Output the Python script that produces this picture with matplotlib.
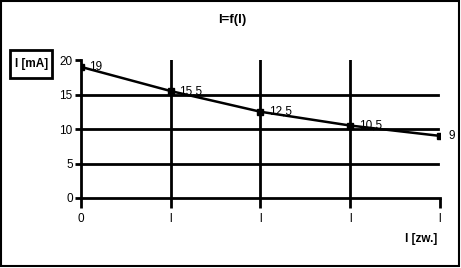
import numpy as np
import matplotlib.pyplot as plt
from matplotlib.patches import Rectangle

plt.rcParams['font.family'] = ['Liberation Sans', 'DejaVu Sans']

# data
xpos = [0, 1, 2, 3, 4]
xlabels = ['0', 'l', 'l', 'l', 'l']
current = [19, 15.5, 12.5, 10.5, 9]
point_labels = ['19', '15,5', '12,5', '10,5', '9']

fig = plt.figure(figsize=(4.61, 2.68), dpi=100)
# outer frame and y-label box
fig.patches.append(Rectangle((0.003, 0.006), 0.993, 0.99, transform=fig.transFigure,
                             fill=False, edgecolor='black', linewidth=1.5))
fig.patches.append(Rectangle((0.0217, 0.709), 0.0911, 0.1045, transform=fig.transFigure,
                             fill=False, edgecolor='black', linewidth=2))
ax = fig.add_axes([0.1757, 0.2612, 0.7787, 0.5149])

for y in [5, 10, 15]:
    ax.plot([0, 3.98], [y, y], color='black', linewidth=2, zorder=1)
for x in [1, 2, 3]:
    ax.axvline(x, color='black', linewidth=2, zorder=1)

ax.plot(xpos, current, color='black', linewidth=1.8, marker='s', markersize=4, zorder=3)
for x, y, lab in zip(xpos, current, point_labels):
    ax.annotate(lab, (x, y), xytext=(6, 0), textcoords='offset points',
                fontsize=8.5, va='center', ha='left')

ax.set_xlim(0, 4)
ax.set_ylim(0, 20)
ax.set_xticks(xpos)
ax.set_xticklabels(xlabels, fontsize=8.5)
ax.set_yticks([0, 5, 10, 15, 20])
ax.tick_params(axis='y', labelsize=8.5, length=4, width=2, pad=2)
ax.tick_params(axis='x', labelsize=8.5, length=7, width=2, pad=4)
for s in ['top', 'right']:
    ax.spines[s].set_visible(False)
for s in ['left', 'bottom']:
    ax.spines[s].set_linewidth(2)
ax.set_facecolor('none')

fig.text(0.503, 0.925, 'I=f(l)', ha='center', va='center', fontsize=9.5, fontweight='bold')
fig.text(0.068, 0.762, 'I [mA]', ha='center', va='center', fontsize=8.5, fontweight='bold')
fig.text(0.948, 0.11, 'l [zw.]', ha='right', va='center', fontsize=8.5, fontweight='bold')

fig.savefig('out.png', dpi=100)
